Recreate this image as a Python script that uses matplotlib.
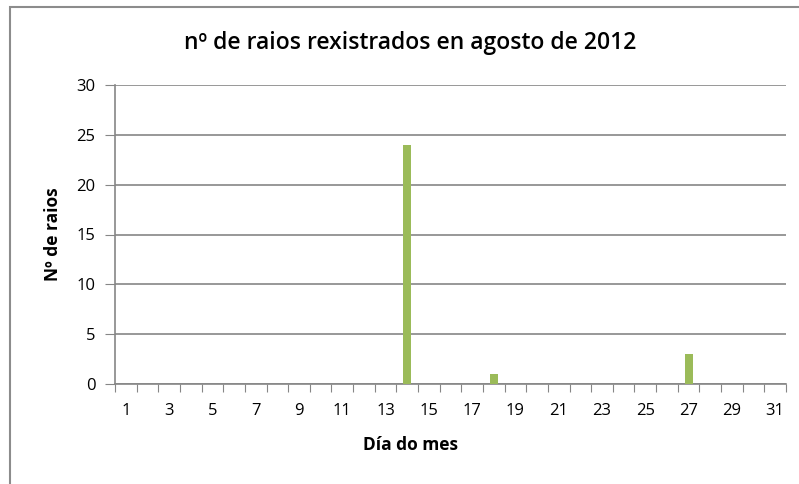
import matplotlib.pyplot as plt
from matplotlib.patches import Rectangle

# datos
dias = list(range(1, 32))
raios = [0] * 31
raios[14 - 1] = 24
raios[18 - 1] = 1
raios[27 - 1] = 3
etiquetas = [str(d) for d in dias if d % 2 == 1]

plt.rcParams['font.family'] = ['Open Sans', 'DejaVu Sans']

fig = plt.figure(figsize=(7.99, 4.84), dpi=100)
# marco exterior do gráfico
fig.patches.append(Rectangle((10 / 799, -0.1), 1.2, 1 - 7 / 484 + 0.1,
                             transform=fig.transFigure, fill=False,
                             edgecolor='#8c8c8c', linewidth=1.5))

ax = fig.add_axes([115 / 799, 1 - 384 / 484, 671 / 799, 299 / 484])
ax.bar(dias, raios, width=0.37, color='#9bbb59', zorder=3)

ax.set_xlim(0.5, 31.5)
ax.set_ylim(0, 30)
ax.set_yticks(range(0, 31, 5))
ax.grid(axis='y', color='#868686', linewidth=1.2)
ax.tick_params(axis='y', length=7, color='#868686', labelsize=12, pad=7)

# marcas entre categorías, etiquetas nos días impares
ax.set_xticks([d + 0.5 for d in range(0, 32)])
ax.set_xticklabels([])
ax.tick_params(axis='x', which='major', length=6, direction='out',
               color='#868686')
ax.set_xticks([d for d in dias if d % 2 == 1], minor=True)
ax.set_xticklabels(etiquetas, minor=True)
ax.tick_params(axis='x', which='minor', length=0, labelsize=12, pad=14)

for s in ['top', 'right']:
    ax.spines[s].set_visible(False)
for s in ['left', 'bottom']:
    ax.spines[s].set_color('#868686')
    ax.spines[s].set_linewidth(1.2)

fig.text(410 / 799, 1 - 43 / 484, 'nº de raios rexistrados en agosto de 2012',
         fontsize=16.5, fontweight='semibold', ha='center', va='center')
fig.text(410 / 799, 1 - 445 / 484, 'Día do mes', fontsize=12.5,
         fontweight='bold', ha='center', va='center')
fig.text(53 / 799, 1 - 234 / 484, 'Nº de raios', fontsize=12.5,
         fontweight='bold', ha='center', va='center', rotation=90)

fig.savefig('out.png', dpi=100)
plt.close(fig)
